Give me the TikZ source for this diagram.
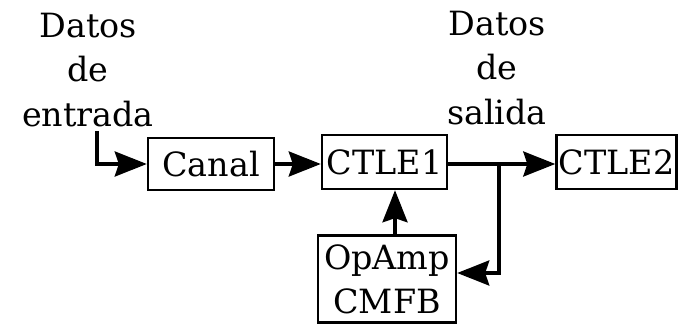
\documentclass[tikz,border=0pt]{standalone}
\usepackage{fontspec}
\setmainfont{DejaVu Serif}
\usepackage{tikz}
\usetikzlibrary{positioning,calc,arrows.meta}
\tikzset{>={Stealth[length=0.64cm,width=0.5cm,inset=0.08cm]}}
\tikzset{blk/.style={draw,line width=1.4pt,inner sep=0pt,align=center,font=\fontsize{19}{25}\selectfont},
  lbl/.style={align=center,font=\fontsize{19}{25.5}\selectfont},
  conn/.style={line width=1.9pt}}

\begin{document}
\begin{tikzpicture}[x=0.02cm,y=-0.02cm]
\useasboundingbox (0,0) rectangle (678,324);
\node[lbl] (din) at (88,70) {Datos\\de\\entrada};
\node[lbl] (dout) at (497,68) {Datos\\de\\salida};
\node[blk,minimum width=2.52cm,minimum height=1.04cm] (canal) at (211,164) {Canal};
\node[blk,minimum width=2.5cm,minimum height=1.08cm] (ctle1) at (384.5,162) {CTLE1};
\node[blk,minimum width=2.4cm,minimum height=1.08cm] (ctle2) at (616.5,162) {CTLE2};
\node[blk,minimum width=2.76cm,minimum height=1.74cm] (cmfb) at (387,279) {OpAmp\\CMFB};
\coordinate (in) at (97,131);
\coordinate (br) at (499,164);
\draw[conn,->] (in) |- (canal.west);
\draw[conn,->] (canal.east) -- (canal.east -| ctle1.west);
\draw[conn,->] (ctle1.east |- br) -- (ctle2.west |- br);
\draw[conn,->] (br) |- (cmfb.east |- 0,273);
\draw[conn,->] (cmfb.north -| 395,0) -- (ctle1.south -| 395,0);
\end{tikzpicture}
\end{document}
